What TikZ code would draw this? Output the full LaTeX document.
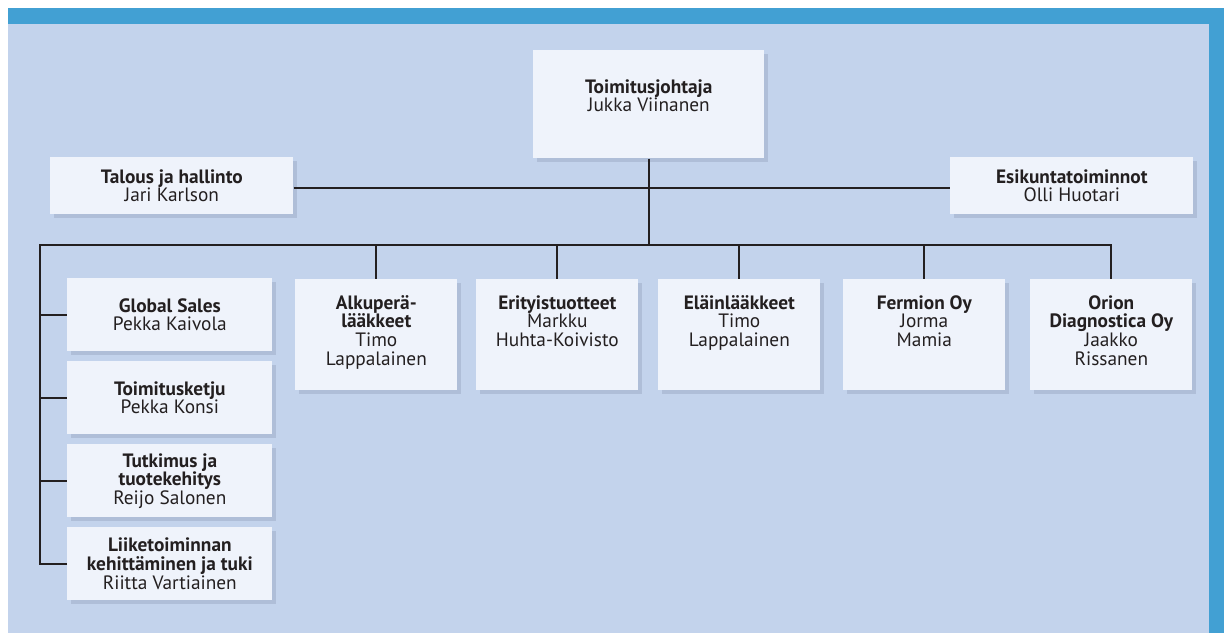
\documentclass[tikz,border=0pt]{standalone}
\usepackage{fontspec}
\setmainfont{PT Sans}
\usetikzlibrary{positioning,shadows}
\definecolor{framec}{HTML}{42A0D3}
\definecolor{paper}{HTML}{C3D3EC}
\definecolor{boxc}{HTML}{EFF3FB}
\definecolor{shadowc}{HTML}{AFBED8}
\definecolor{linec}{HTML}{231F20}
\tikzset{
  unit/.style={fill=boxc, inner sep=0pt, anchor=north west,
    drop shadow={fill=shadowc, opacity=1, shadow xshift=0.08cm, shadow yshift=-0.08cm}},
  txt/.style={align=center, inner sep=0pt, text=linec, font=\fontsize{11}{10.6}\selectfont},
  wire/.style={draw=linec, line width=1.2pt},
}

\begin{document}
\begin{tikzpicture}[x=0.02cm,y=-0.02cm,line join=miter]
  \useasboundingbox (0,0) rectangle (1224,633);
  \fill[framec] (8,8) rectangle (1224,633);
  \fill[paper] (8,24) rectangle (1209,633);
  % management
  \node[unit,minimum width=4.62cm,minimum height=2.16cm] (ceo) at (533,50) {};
  \node[txt,below=0.58cm of ceo.north] (ceo-t) {\textbf{Toimitusjohtaja}\\Jukka Viinanen};
  \node[unit,minimum width=4.86cm,minimum height=1.14cm] (talous) at (50,157) {};
  \node[txt] (talous-t) at (talous.center) {\textbf{Talous ja hallinto}\\Jari Karlson};
  \node[unit,minimum width=4.86cm,minimum height=1.14cm] (esik) at (950,157) {};
  \node[txt] (esik-t) at (esik.center) {\textbf{Esikuntatoiminnot}\\Olli Huotari};
  % functions
  \foreach \n/\y/\t in {global/278/{\textbf{Global Sales}\\Pekka Kaivola},
      ketju/361/{\textbf{Toimitusketju}\\Pekka Konsi},
      tutk/444/{\textbf{Tutkimus ja}\\\textbf{tuotekehitys}\\Reijo Salonen},
      liike/527/{\textbf{Liiketoiminnan}\\\textbf{kehittäminen ja tuki}\\Riitta Vartiainen}}{
    \node[unit,minimum width=4.1cm,minimum height=1.46cm] (\n) at (67,\y) {};
    \node[txt] (\n-t) at (\n.center) {\t};
  }
  % business divisions
  \foreach \n/\x/\t in {alku/295/{\textbf{Alkuperä-}\\\textbf{lääkkeet}\\Timo\\Lappalainen},
      erit/476/{\textbf{Erityistuotteet}\\Markku\\Huhta-Koivisto},
      elain/658/{\textbf{Eläinlääkkeet}\\Timo\\Lappalainen},
      fermion/843/{\textbf{Fermion Oy}\\Jorma\\Mamia},
      orion/1030/{\textbf{Orion}\\\textbf{Diagnostica Oy}\\Jaakko\\Rissanen}}{
    \node[unit,minimum width=3.24cm,minimum height=2.22cm] (\n) at (\x,279) {};
    \node[txt,below=0.32cm of \n.north] (\n-t) {\t};
  }
  % lines
  \coordinate (busL) at (40,245);
  \coordinate (staff) at (0,188);
  \draw[wire] (ceo.south) -- (ceo.south |- busL);
  \draw[wire] (talous.east |- staff) -- (esik.west |- staff);
  \draw[wire] (liike.west) -| (busL) -| (orion.north);
  \foreach \n in {alku,erit,elain,fermion} \draw[wire] (\n.north |- busL) -- (\n.north);
  \foreach \n in {global,ketju,tutk} \draw[wire] (\n.west -| busL) -- (\n.west);
\end{tikzpicture}
\end{document}
